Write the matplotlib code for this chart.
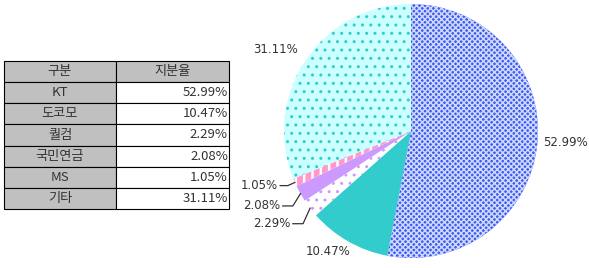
import matplotlib
matplotlib.use('Agg')
import matplotlib.pyplot as plt
import numpy as np

plt.rcParams['font.family'] = ['Noto Sans CJK KR', 'DejaVu Sans']
plt.rcParams['hatch.linewidth'] = 0.8

names = ['KT', '도코모', '퀄컴', '국민연금', 'MS', '기타']
shares = [52.99, 10.47, 2.29, 2.08, 1.05, 31.11]
header = ['구분', '지분율']
face = ['#3a5cf0', '#33cccc', '#ffffff', '#cc99ff', '#ff99cc', '#ccffff']
hatch_col = ['#d0d8ff', '#33cccc', '#cc99ff', '#cc99ff', '#ffffff', '#33cccc']
hatches = ['xxxxxx', None, '..', None, '||', '..']
hatch_lw = [1.1, 0.8, 1.0, 0.8, 1.8, 1.0]

W, H = 589, 268
fig = plt.figure(figsize=(W / 100, H / 100), dpi=100)

# table
tax = fig.add_axes([4 / W, (H - 209) / H, 225 / W, 148 / H])
tax.axis('off')
rows = [header] + [[n, f'{v:.2f}%'] for n, v in zip(names, shares)]
colors = [['#c0c0c0', '#c0c0c0']] + [['#c0c0c0', '#ffffff'] for _ in names]
tbl = tax.table(cellText=rows, cellColours=colors, bbox=[0, 0, 1, 1],
                colWidths=[112, 113], cellLoc='center')
tbl.auto_set_font_size(False)
for (r, c), cell in tbl.get_celld().items():
    cell.set_linewidth(0.8)
    cell.set_edgecolor('#000000')
    cell.get_text().set_fontsize(9.5)
    cell.get_text().set_color('#333333')
    if r > 0 and c == 1:
        cell.get_text().set_horizontalalignment('right')
        cell.PAD = 0.01

# pie
cx, cy, R = 411, 131, 127
ax = fig.add_axes([(cx - R) / W, (H - cy - R) / H, 2 * R / W, 2 * R / H])
wedges, _ = ax.pie(shares, startangle=90, counterclock=False, colors=face,
                   wedgeprops=dict(linewidth=0))
for w, h, hc, hl in zip(wedges, hatches, hatch_col, hatch_lw):
    if h:
        w.set_hatch(h)
        w.set_edgecolor(hc)
        w.set_linewidth(0)
        if hasattr(w, 'set_hatch_linewidth'):
            w.set_hatch_linewidth(hl)
ax.set_xlim(-1, 1)
ax.set_ylim(-1, 1)
ax.set_aspect('auto')
ax.axis('off')

# labels: (radius, angle offset in degrees)
big = {0: (1.22, 1.0), 1: (1.15, -5.0), 5: (1.24, 3.0)}
small = {2: (-0.95, -0.73), 3: (-1.03, -0.59), 4: (-1.05, -0.43)}
bend = {2: (-0.85, -0.73), 3: (-0.93, -0.59), 4: (-0.97, -0.43)}
for i, w in enumerate(wedges):
    lab = f'{shares[i]:.2f}%'
    if i in big:
        r, off = big[i]
        mid = np.deg2rad((w.theta1 + w.theta2) / 2 + off)
        ax.text(r * np.cos(mid), r * np.sin(mid), lab, ha='center', va='center',
                fontsize=8.5, color='#333333', family='DejaVu Sans')
    else:
        mid = np.deg2rad((w.theta1 + w.theta2) / 2)
        ex, ey = np.cos(mid), np.sin(mid)
        bx, by = bend[i]
        tx, ty = small[i]
        ax.plot([ex, bx, tx + 0.02], [ey, by, ty], color='#333333', lw=0.9,
                clip_on=False)
        ax.text(tx, ty, lab, ha='right', va='center', fontsize=8.5,
                color='#333333', family='DejaVu Sans')

fig.savefig('out.png', dpi=100)
